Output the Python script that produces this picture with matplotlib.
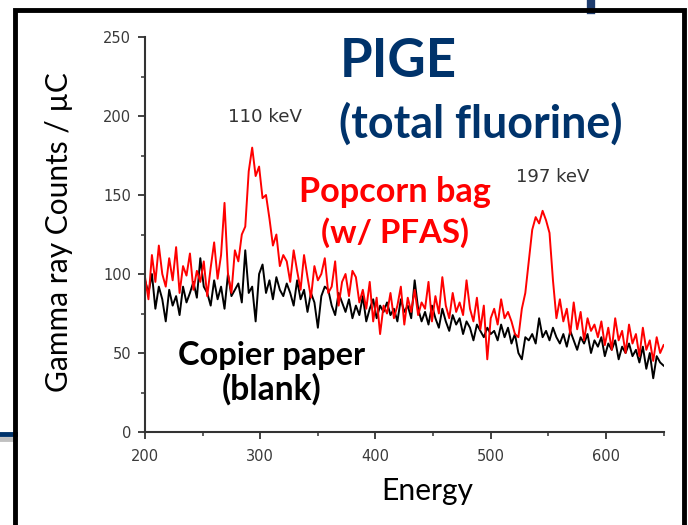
import numpy as np
import matplotlib.pyplot as plt
from matplotlib.lines import Line2D
from matplotlib.ticker import MultipleLocator

# Energy channels (every 3 units)
energy = np.arange(200, 651, 3)

# Popcorn bag (w/ PFAS) counts
popcorn = [98, 84, 112, 95, 118, 100, 92, 110, 96, 117, 88, 105, 99, 113, 90, 102, 95, 108, 86, 104, 120,
           97, 112, 145, 100, 88, 115, 108, 125, 130, 165,
           180, 162, 168, 148, 150, 135, 118, 125, 105, 112,
           108, 95, 115, 102, 90, 112, 98, 85, 105, 96,
           100, 110, 88, 92, 108, 80, 95, 100, 86, 102,
           98, 82, 90, 78, 95, 70, 85, 62, 80, 75,
           88, 72, 80, 92, 68, 85, 76, 90, 74, 82,
           78, 95, 70, 86, 75, 98, 80, 72, 88, 76,
           82, 74, 96, 78, 70, 85, 65, 80, 46, 72,
           78, 68, 84, 72, 76, 70, 62,
           60, 78, 88, 108, 128, 136, 132, 140, 134, 126, 96, 72, 84,
           70, 78, 62, 82, 65, 76, 58, 72, 64, 68,
           60, 70, 55, 66, 52, 72, 58, 64, 50, 68,
           56, 62, 48, 66, 52, 58, 45, 60, 50, 55]

# Copier paper (blank) counts
copier = [96, 88, 100, 78, 92, 84, 70, 90, 80, 86, 74, 92, 82, 88, 95, 85, 110, 92, 88, 80, 96,
          84, 92, 78, 100, 86, 90, 94, 82, 115, 88,
          92, 70, 100, 106, 88, 96, 84, 98, 90, 86,
          94, 88, 80, 96, 84, 90, 76, 88, 82, 66,
          86, 92, 90, 80, 74, 88, 82, 76, 84, 72,
          80, 74, 86, 70, 78, 84, 72, 80, 76, 82,
          74, 78, 70, 84, 76, 80, 72, 96, 78, 70,
          76, 68, 80, 72, 66, 78, 70, 64, 74, 68,
          72, 62, 70, 66, 58, 68, 64, 60, 66, 62,
          64, 58, 68, 60, 66, 56, 62, 50, 46, 60,
          58, 62, 56, 72, 60, 64, 58, 66, 60, 56,
          62, 54, 64, 58, 52, 60, 56, 62, 50, 58,
          54, 60, 48, 56, 52, 58, 46, 54, 50, 56,
          48, 52, 44, 54, 40, 50, 34, 48, 44, 42]

W, H = 688, 525
navy = '#00336b'
slide_font = ['Lato', 'DejaVu Sans']

fig = plt.figure(figsize=(W/100, H/100), dpi=100)
fig.patch.set_facecolor('white')
renderer = fig.canvas.get_renderer()

def put(x, y, s, width, rotation=0, **kw):
    # text at pixel position (baseline), font size scaled to fill the given pixel width
    t = fig.text(x/W, 1-y/H, s, ha='center', va='baseline', fontsize=20, rotation=rotation,
                 rotation_mode='anchor', **kw)
    bb = t.get_window_extent(renderer)
    size = bb.height if rotation else bb.width
    t.set_fontsize(20*width/size)
    return t

# slide decorations: black frame and bits of the blue bars behind it
fig.add_artist(Line2D([591/W, 591/W], [1, 1-10/H], color='#1f3d6e', lw=6))
fig.add_artist(Line2D([0, 15/W], [1-434/H, 1-434/H], color=navy, lw=3.5))
fig.add_artist(Line2D([0, 15/W], [1-439/H, 1-439/H], color='#c0c0c0', lw=3.5))
fig.add_artist(Line2D([15/W, 15/W, 684/W, 684/W], [0, 1-10/H, 1-10/H, 0],
                      color='black', lw=3.5, solid_joinstyle='miter'))

ax = fig.add_axes([145/W, 1-432/H, 518.6/W, 395/H])
ax.plot(energy, copier, color='black', lw=1.4)
ax.plot(energy, popcorn, color='red', lw=1.4)

ax.set_xlim(200, 650)
ax.set_ylim(0, 250)
ax.xaxis.set_major_locator(MultipleLocator(100))
ax.xaxis.set_minor_locator(MultipleLocator(50))
ax.yaxis.set_major_locator(MultipleLocator(50))
ax.yaxis.set_minor_locator(MultipleLocator(25))
for s in ['top', 'right']:
    ax.spines[s].set_visible(False)
for s in ['left', 'bottom']:
    ax.spines[s].set_color('#333333')
    ax.spines[s].set_linewidth(1.5)
ax.tick_params(which='major', length=5, width=1.3, color='#333333', labelsize=10.5,
               labelcolor='#3a3a3a', direction='out')
ax.tick_params(axis='x', which='major', pad=7)
ax.tick_params(axis='y', which='major', pad=5)
ax.tick_params(which='minor', length=3, width=1.1, color='#333333', direction='out')

# axis titles
put(427, 500, 'Energy', 92, family=slide_font, color='black')
put(68, 232, 'Gamma ray Counts / µC', 319, rotation=90, family=slide_font, color='black')

# Origin-style peak labels
put(265, 122, '110 keV', 74, family='DejaVu Sans', color='#333333')
put(553, 182, '197 keV', 73, family='DejaVu Sans', color='#333333')

# slide annotations
put(398, 77, 'PIGE', 117, family=slide_font, fontweight='bold', color=navy)
put(481, 138, '(total fluorine)', 284, family=slide_font, fontweight='bold', color=navy)
put(395, 202, 'Popcorn bag', 192, family=slide_font, fontweight='bold', color='red')
put(395, 243, '(w/ PFAS)', 148, family=slide_font, fontweight='bold', color='red')
put(272, 365, 'Copier paper', 188, family=slide_font, fontweight='bold', color='black')
put(272, 400, '(blank)', 100, family=slide_font, fontweight='bold', color='black')

fig.savefig('out.png', dpi=100, facecolor='white')
